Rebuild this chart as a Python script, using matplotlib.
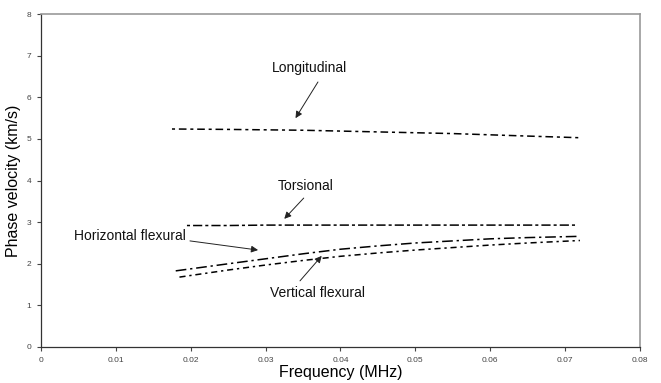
import matplotlib
matplotlib.use("Agg")
import matplotlib.pyplot as plt

plt.rcParams['font.family'] = ['Liberation Sans', 'DejaVu Sans']

# ---------------------------------------------------------
# DATA
# ---------------------------------------------------------
long_f = [0.0175, 0.025, 0.03, 0.035, 0.04, 0.045, 0.05, 0.055, 0.06, 0.065, 0.072]
long_v = [5.24, 5.23, 5.22, 5.21, 5.19, 5.17, 5.15, 5.13, 5.10, 5.07, 5.03]

tors_f = [0.0195, 0.025, 0.03, 0.035, 0.04, 0.045, 0.05, 0.055, 0.06, 0.065, 0.0715]
tors_v = [2.92, 2.92, 2.93, 2.93, 2.93, 2.93, 2.93, 2.93, 2.93, 2.93, 2.93]

hflex_f = [0.018, 0.025, 0.03, 0.035, 0.04, 0.045, 0.05, 0.055, 0.06, 0.065, 0.072]
hflex_v = [1.83, 2.00, 2.12, 2.24, 2.35, 2.43, 2.50, 2.55, 2.60, 2.63, 2.66]

vflex_f = [0.0185, 0.025, 0.03, 0.035, 0.04, 0.045, 0.05, 0.055, 0.06, 0.065, 0.072]
vflex_v = [1.68, 1.85, 1.97, 2.08, 2.18, 2.26, 2.33, 2.39, 2.45, 2.50, 2.56]

x_ticks = [0, 0.01, 0.02, 0.03, 0.04, 0.05, 0.06, 0.07, 0.08]
x_tick_labels = ["0", "0.01", "0.02", "0.03", "0.04", "0.05", "0.06", "0.07", "0.08"]
y_ticks = [0, 1, 2, 3, 4, 5, 6, 7, 8]

# (label, text position, arrow start, arrow tip)
notes = [
    ("Longitudinal", (0.0359, 6.71), (0.0370, 6.37), (0.0340, 5.50)),
    ("Torsional", (0.0354, 3.87), (0.0351, 3.58), (0.0325, 3.08)),
    ("Horizontal flexural", (0.0119, 2.67), (0.0199, 2.55), (0.0290, 2.33)),
    ("Vertical flexural", (0.0370, 1.30), (0.0346, 1.59), (0.0375, 2.19)),
]

# ---------------------------------------------------------
# PLOT
# ---------------------------------------------------------
fig = plt.figure(figsize=(6.61, 3.83), dpi=100)
ax = fig.add_axes([0.062, 0.094, 0.906, 0.869])

ax.plot(long_f, long_v, color="black", lw=1.1, linestyle=(0, (2, 2.5, 5, 2.5)))
ax.plot(tors_f, tors_v, color="black", lw=1.1, linestyle=(0, (2, 2, 6, 2)))
ax.plot(hflex_f, hflex_v, color="black", lw=1.1, linestyle=(0, (7, 2.5, 1.5, 2.5)))
ax.plot(vflex_f, vflex_v, color="black", lw=1.1, linestyle=(0, (4, 2.5, 1.5, 2.5)))

for label, txt, start, tip in notes:
    ax.text(txt[0], txt[1], label, fontsize=10, color="#111111",
            ha="center", va="center")
    ax.annotate("", xy=tip, xytext=start,
                arrowprops=dict(arrowstyle="-|>", color="#222222", lw=0.7,
                                mutation_scale=10, shrinkA=0, shrinkB=0))

ax.set_xlim(0, 0.08)
ax.set_ylim(0, 8)
ax.set_xticks(x_ticks)
ax.set_xticklabels(x_tick_labels)
ax.set_yticks(y_ticks)
ax.tick_params(axis="both", labelsize=6, colors="#444444", length=3, width=0.8, pad=4)

ax.set_xlabel("Frequency (MHz)", fontsize=11.5, labelpad=1)
ax.set_ylabel("Phase velocity (km/s)", fontsize=11.5, labelpad=4)

for side in ["top", "right"]:
    ax.spines[side].set_color("#999999")
    ax.spines[side].set_linewidth(1.2)
for side in ["left", "bottom"]:
    ax.spines[side].set_color("#333333")
    ax.spines[side].set_linewidth(0.9)

fig.savefig("out.png", dpi=100)
